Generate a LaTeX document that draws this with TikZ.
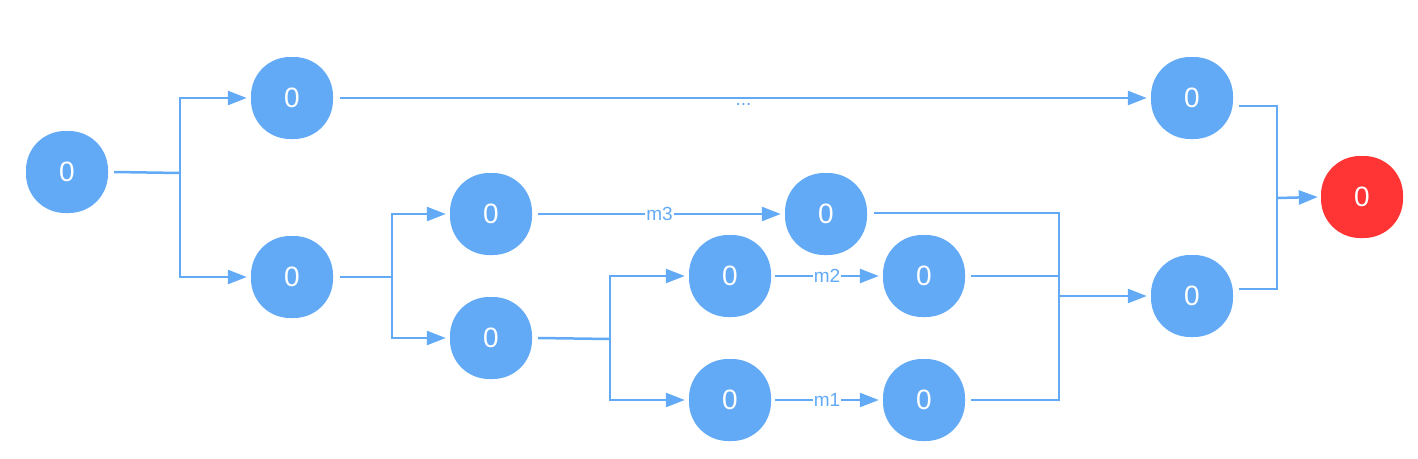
\documentclass[tikz,border=0pt]{standalone}
\usepackage{fontspec}
\setmainfont{Liberation Sans}
\usetikzlibrary{arrows.meta}
\definecolor{nblue}{HTML}{63AAF6}
\definecolor{nred}{HTML}{FF3535}
\tikzset{
  blob/.style={fill=nblue, draw=none, rounded corners=39pt, minimum width=82pt, minimum height=82pt, inner sep=0pt, text=white, font=\fontsize{28}{28}\selectfont},
  redblob/.style={blob, fill=nred},
  conn/.style={draw=nblue, line width=2.5pt},
  arr/.style={conn, -{Triangle[length=19pt,width=14pt]}},
  elab/.style={fill=white, text=nblue, inner sep=1pt, font=\fontsize{19}{19}\selectfont},
}
\begin{document}
\begin{tikzpicture}[x=1pt,y=-1pt]
\useasboundingbox (0,0) rectangle (1418,458);
\node[blob] (A) at (67,172) {0};
\node[blob] (B) at (292,98) {0};
\node[blob] (C) at (292,277) {0};
\node[blob] (D) at (1192,98) {0};
\node[blob] (E) at (491,214) {0};
\node[blob] (F) at (491,338) {0};
\node[blob] (G) at (826,214) {0};
\node[blob] (H) at (730,276) {0};
\node[blob] (I) at (924,276) {0};
\node[blob] (J) at (730,400) {0};
\node[blob] (K) at (924,400) {0};
\node[blob] (L) at (1192,296) {0};
\node[redblob] (R) at (1362,197) {0};

\coordinate (a1) at (180,173);
\coordinate (c1) at (392,277);
\coordinate (f1) at (610,339);
\coordinate (l1) at (1059,296);
\coordinate (r1) at (1277,198);

% A split
\draw[conn] (A.east) ++(6,0) -- (a1);
\draw[arr] (a1) |- ([xshift=-4pt]B.west);
\draw[arr] (a1) |- ([xshift=-4pt]C.west);
% B -> D
\draw[arr] ([xshift=7pt]B.east) -- node[elab, yshift=-6pt]{...} ([xshift=-4pt]D.west);
% C split
\draw[conn] ([xshift=7pt]C.east) -- (c1);
\draw[arr] (c1) |- ([xshift=-4pt]E.west);
\draw[arr] (c1) |- ([xshift=-4pt]F.west);
% E -> G
\draw[arr] ([xshift=6pt]E.east) -- node[elab]{m3} ([xshift=-4pt]G.west);
% F split
\draw[conn] ([xshift=6pt]F.east) -- (f1);
\draw[arr] (f1) |- ([xshift=-4pt]H.west);
\draw[arr] (f1) |- ([xshift=-4pt]J.west);
% H -> I, J -> K
\draw[arr] ([xshift=4pt]H.east) -- node[elab]{m2} ([xshift=-4pt]I.west);
\draw[arr] ([xshift=4pt]J.east) -- node[elab]{m1} ([xshift=-4pt]K.west);
% merge into L
\draw[conn] ([xshift=7pt,yshift=1pt]G.east) -| (l1);
\draw[conn] ([xshift=6pt]I.east) -| (l1);
\draw[conn] ([xshift=6pt]K.east) -| (l1);
\draw[arr] (l1) -- ([xshift=-4pt]L.west);
% merge into R
\draw[conn] ([xshift=6pt,yshift=-8pt]D.east) -| (r1);
\draw[conn] ([xshift=6pt,yshift=7pt]L.east) -| (r1);
\draw[arr] (r1) -- ([xshift=-3pt]R.west);
\end{tikzpicture}
\end{document}
